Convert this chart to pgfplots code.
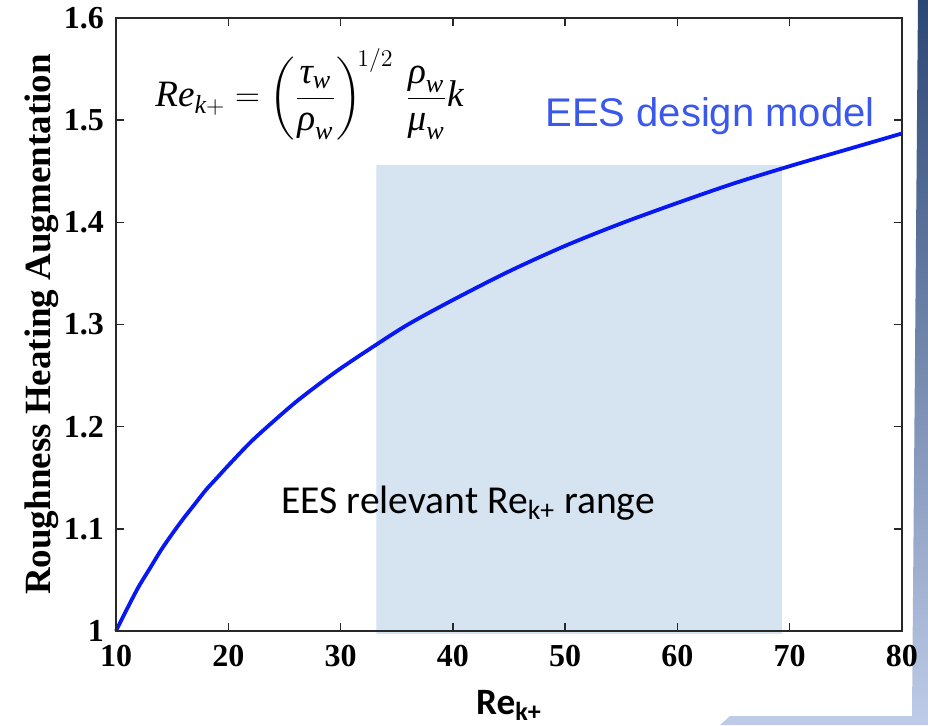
\documentclass[border=0pt]{standalone}
\usepackage{fontspec}
\usepackage{amsmath}
\setmainfont{Liberation Serif}
\newfontfamily\calibri{Carlito}
\newfontfamily\arial{Liberation Sans}
\usepackage{pgfplots}
\pgfplotsset{compat=1.18}

\definecolor{curveblue}{RGB}{8,24,242}
\definecolor{labelblue}{RGB}{58,88,236}
\definecolor{rangefill}{RGB}{214,228,242}
\definecolor{axisgray}{RGB}{40,40,40}
\definecolor{slidetop}{RGB}{44,70,115}
\definecolor{slidemid}{RGB}{88,120,175}
\definecolor{slidebot}{RGB}{190,204,232}

\begin{document}
\begin{tikzpicture}
\useasboundingbox (0,0) rectangle (464pt,362.5pt);

% slide background showing at the right and bottom edge
\shade[top color=slidetop, middle color=slidemid, bottom color=slidebot]
  (459pt,362.5pt) -- (464pt,362.5pt) -- (464pt,0pt) -- (360pt,0pt)
  -- (365pt,4.5pt) -- (456pt,4.5pt) -- cycle;

\begin{axis}[
  at={(58pt,47pt)}, anchor=south west,
  scale only axis, width=393pt, height=306.5pt,
  xmin=10, xmax=80, ymin=1, ymax=1.6,
  xtick={10,20,...,80},
  ytick={1,1.1,1.2,1.3,1.4,1.5,1.6},
  tick align=inside,
  major tick length=4pt,
  axis line style={axisgray, line width=0.7pt},
  every tick/.style={axisgray, line width=0.7pt},
  /pgf/number format/assume math mode=true,
  ticklabel style={font=\bfseries\fontsize{16}{16}\selectfont},
  xticklabel style={yshift=-3.5pt},
  yticklabel style={xshift=-2.5pt},
  xlabel={Re\textsubscript{k+}},
  xlabel style={font=\calibri\bfseries\fontsize{18.6}{19}\selectfont,
    at={(axis description cs:0.5,-0.136)}, anchor=base},
  ylabel={Roughness Heating Augmentation},
  ylabel style={font=\bfseries\fontsize{18.5}{19}\selectfont,
    at={(axis description cs:-0.0827,0.5)}, anchor=base},
  axis on top=true,
  clip=false,
]
% relevant Re_k+ range
\addplot[draw=none, fill=rangefill] coordinates
  {(33.2,0.997) (69.3,0.997) (69.3,1.456) (33.2,1.456) (33.2,0.997)};

% design model curve
\addplot[curveblue, line width=1.9pt, smooth] coordinates {
  (10,1.000) (11,1.022) (12,1.043) (13,1.061) (14,1.079) (15,1.095)
  (16,1.110) (17,1.124) (18,1.138) (19,1.150) (20,1.162) (22,1.185)
  (24,1.205) (26,1.224) (28,1.241) (30,1.257) (33,1.279) (36,1.300)
  (40,1.324) (45,1.352) (50,1.377) (55,1.399) (60,1.419) (65,1.438)
  (70,1.455) (75,1.471) (80,1.487)
};
\end{axis}

% annotations
\node[anchor=base west, inner sep=0, font=\fontsize{18.6}{18.6}\selectfont]
  at (77.5pt,309pt)
  {$\textit{Re}_{\textit{k}+} = \left(\dfrac{\textit{τ}_{\textit{w}}}{\textit{ρ}_{\textit{w}}}\right)^{\!1/2}\,
    \dfrac{\textit{ρ}_{\textit{w}}}{\textit{μ}_{\textit{w}}}\textit{k}$};
\node[anchor=base west, inner sep=0, text=labelblue,
  font=\arial\fontsize{20}{20}\selectfont]
  at (272.5pt,299pt) {EES design model};
\node[anchor=base west, inner sep=0, font=\calibri\fontsize{19.8}{20}\selectfont]
  at (140.5pt,106pt) {EES relevant Re\textsubscript{k+} range};
\end{tikzpicture}
\end{document}
